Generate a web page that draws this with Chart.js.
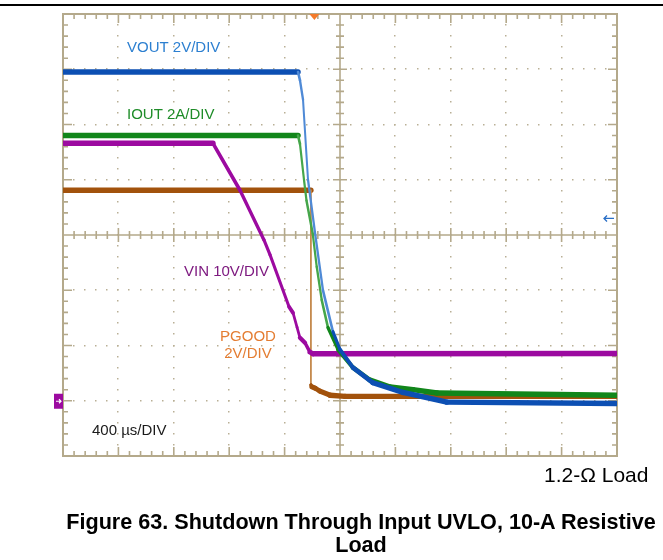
<!DOCTYPE html>
<html>
<head>
<meta charset="utf-8">
<script src="https://cdn.jsdelivr.net/npm/chart.js@4.4.0/dist/chart.umd.min.js"></script>
<style>
  body { margin: 0; background: #fff; }
  #wrap { position: relative; width: 663px; height: 560px; overflow: hidden; font-family: "Liberation Sans", Arial, sans-serif; }
  #scope { position: absolute; left: 0; top: 0; }
  .rule { position: absolute; left: 0; top: 4px; width: 663px; height: 2px; background: #000; }
  .load { position: absolute; left: 544px; top: 464px; font-size: 21px; line-height: 21px; color: #000; white-space: nowrap; }
  .caption { position: absolute; left: 0; top: 510px; width: 722px; text-align: center; font-size: 21.6px; line-height: 23px; font-weight: bold; color: #000; white-space: nowrap; }
</style>
</head>
<body>
<div id="wrap">
  <div class="rule"></div>
  <canvas id="scope" width="663" height="560"></canvas>
  <div class="load">1.2-Ω Load</div>
  <div class="caption">Figure 63. Shutdown Through Input UVLO, 10-A Resistive<br>Load</div>
</div>
<script>
// Scope settings: 10 x 8 divisions, all channels share ground one division above the bottom
const usPerDiv = 400;
const voutPerDiv = 2;   // V/DIV
const ioutPerDiv = 2;   // A/DIV
const vinPerDiv = 10;   // V/DIV
const pgoodPerDiv = 2;  // V/DIV

// VOUT trace (time in us, volts)
const voutTimeUs = [0, 1697, 1711, 1733, 1769, 1819, 1877, 1949, 2000, 2094, 2238, 2455, 2772, 4000];
const voutVolts  = [11.9, 11.9, 11.6, 10.9, 8.0, 6.1, 4.0, 2.5, 1.85, 1.2, 0.65, 0.3, -0.05, -0.1];

// IOUT trace (time in us, amps)
const ioutTimeUs = [0, 1697, 1711, 1740, 1758, 1803, 1832, 1868, 1913, 1986, 2094, 2217, 2361, 2527, 2700, 4000];
const ioutAmps   = [9.6, 9.6, 9.3, 8.0, 7.25, 6.05, 4.85, 3.65, 2.65, 1.85, 1.2, 0.75, 0.5, 0.4, 0.28, 0.2];

// VIN trace (time in us, volts)
const vinTimeUs = [0, 1083, 1278, 1451, 1495, 1632, 1661, 1690, 1711, 1747, 1783, 1805, 4000];
const vinVolts  = [46.6, 46.6, 38.1, 29.1, 26.4, 17.0, 15.9, 13.3, 11.4, 10.5, 8.8, 8.5, 8.55];

// PGOOD trace (time in us, volts)
const pgoodTimeUs = [0, 1790, 1790, 1798, 1819, 1855, 1928, 2036, 4000];
const pgoodVolts  = [7.62, 7.62, 0.57, 0.5, 0.46, 0.35, 0.2, 0.16, 0.16];

// Trigger point and level (on VOUT)
const triggerTimeUs = 1815;
const triggerLevelV = 6.6;

const frameColor = '#b4a98b';

function points(ts, vs) {
    return ts.map((t, i) => ({ x: t, y: vs[i] }));
}

// Scope traces look thick where they are flat (noise) and thin where they move fast
function traceStyle(main, light) {
    const cosAngle = c => {
        const dx = Math.abs(c.p1.x - c.p0.x), dy = Math.abs(c.p1.y - c.p0.y);
        return dx / (Math.hypot(dx, dy) || 1);
    };
    return {
        borderColor: c => cosAngle(c) < 0.25 ? light : main,
        borderWidth: c => 1.8 + 3.6 * cosAngle(c)
    };
}

function axisFor(perDiv) {
    // 8 divisions, ground at one division above the bottom
    return { display: false, min: -perDiv, max: 7 * perDiv };
}

// Draws the scope graticule: dotted grid, centre cross and frame ticks
const graticule = {
    id: 'graticule',
    beforeDatasetsDraw(chart) {
        const ctx = chart.ctx;
        const a = chart.chartArea;
        const xs = chart.scales.x;
        const ys = chart.scales.yVout;
        const colX = i => xs.getPixelForValue(i * usPerDiv);
        const rowY = j => ys.getPixelForValue((j - 1) * voutPerDiv);
        const sub = (a.right - a.left) / 50;
        const subY = (a.bottom - a.top) / 40;

        ctx.save();
        // dotted division lines
        ctx.fillStyle = '#b9af95';
        for (let i = 1; i < 10; i++) {
            if (i == 5) continue;
            const gx = Math.round(colX(i));
            for (let k = 1; k < 40; k++) {
                ctx.fillRect(gx - 1, Math.round(a.top + k * subY) - 1, 1.5, 1.5);
            }
        }
        for (let j = 1; j < 8; j++) {
            if (j == 4) continue;
            const gy = Math.round(rowY(j));
            for (let k = 1; k < 50; k++) {
                ctx.fillRect(Math.round(a.left + k * sub) - 1, gy - 1, 1.5, 1.5);
            }
        }

        ctx.strokeStyle = frameColor;
        ctx.lineWidth = 1.6;
        ctx.beginPath();
        // centre cross
        const cx = colX(5), cy = rowY(4);
        ctx.moveTo(cx, a.top); ctx.lineTo(cx, a.bottom);
        ctx.moveTo(a.left, cy); ctx.lineTo(a.right, cy);
        // ticks on the centre cross
        for (let k = 1; k < 50; k++) {
            const tx = a.left + k * sub;
            const len = k % 5 == 0 ? 7 : 4;
            ctx.moveTo(tx, cy - len); ctx.lineTo(tx, cy + len);
        }
        for (let k = 1; k < 40; k++) {
            const ty = a.top + k * subY;
            const len = k % 5 == 0 ? 7 : 4;
            ctx.moveTo(cx - len, ty); ctx.lineTo(cx + len, ty);
        }
        // ticks on the frame, pointing inwards
        for (let k = 1; k < 50; k++) {
            const tx = a.left + k * sub;
            const len = k % 5 == 0 ? 9 : 5;
            ctx.moveTo(tx, a.top); ctx.lineTo(tx, a.top + len);
            ctx.moveTo(tx, a.bottom); ctx.lineTo(tx, a.bottom - len);
        }
        for (let k = 1; k < 40; k++) {
            const ty = a.top + k * subY;
            const len = k % 5 == 0 ? 9 : 5;
            ctx.moveTo(a.left, ty); ctx.lineTo(a.left + len, ty);
            ctx.moveTo(a.right, ty); ctx.lineTo(a.right - len, ty);
        }
        ctx.stroke();
        ctx.lineWidth = 2;
        ctx.strokeRect(a.left, a.top, a.right - a.left, a.bottom - a.top);
        ctx.restore();
    },
    afterDatasetsDraw(chart) {
        const ctx = chart.ctx;
        const a = chart.chartArea;
        const xs = chart.scales.x;
        const ys = chart.scales.yVout;
        ctx.save();

        // trigger position marker (orange triangle at the top)
        const tx = xs.getPixelForValue(triggerTimeUs);
        ctx.fillStyle = '#f47a2a';
        ctx.beginPath();
        ctx.moveTo(tx - 5, a.top);
        ctx.lineTo(tx + 5, a.top);
        ctx.lineTo(tx, a.top + 6);
        ctx.closePath();
        ctx.fill();

        // trigger level arrow on the right
        const ly = ys.getPixelForValue(triggerLevelV);
        ctx.strokeStyle = '#2a6fc6';
        ctx.lineWidth = 1.3;
        ctx.beginPath();
        ctx.moveTo(a.right - 13, ly); ctx.lineTo(a.right - 3, ly);
        ctx.moveTo(a.right - 10, ly - 3); ctx.lineTo(a.right - 13, ly); ctx.lineTo(a.right - 10, ly + 3);
        ctx.stroke();

        // ground marker on the left
        const gy = ys.getPixelForValue(0);
        ctx.fillStyle = '#9c0aa0';
        ctx.fillRect(a.left - 9, gy - 7, 9, 15);
        ctx.strokeStyle = '#fff';
        ctx.lineWidth = 1.2;
        ctx.beginPath();
        ctx.moveTo(a.left - 7, gy + 0.5); ctx.lineTo(a.left - 2, gy + 0.5);
        ctx.moveTo(a.left - 4, gy - 1.5); ctx.lineTo(a.left - 2, gy + 0.5); ctx.lineTo(a.left - 4, gy + 2.5);
        ctx.stroke();

        // channel labels
        ctx.font = '15px "Liberation Sans", Arial, sans-serif';
        ctx.textBaseline = 'alphabetic';
        ctx.textAlign = 'left';
        ctx.fillStyle = '#2c7fd0';
        ctx.fillText('VOUT 2V/DIV', 127, 52);
        ctx.fillStyle = '#1e8c28';
        ctx.fillText('IOUT 2A/DIV', 127, 119);
        ctx.fillStyle = '#7e1a80';
        ctx.fillText('VIN 10V/DIV', 184, 276);
        ctx.fillStyle = '#e47d32';
        ctx.textAlign = 'center';
        ctx.fillText('PGOOD', 248, 341);
        ctx.fillText('2V/DIV', 248, 358);
        ctx.fillStyle = '#1a1a1a';
        ctx.textAlign = 'left';
        ctx.fillText('400 \u00b5s/DIV', 92, 435);
        ctx.restore();
    }
};

const ctx = document.getElementById('scope');

const scopeChart = new Chart(ctx, {
    type: 'line',
    data: {
        datasets: [
            {
                label: 'VOUT',
                data: points(voutTimeUs, voutVolts),
                yAxisID: 'yVout',
                borderColor: '#0c4fb3',
                segment: traceStyle('#0c4fb3', '#4f8ad6')
            },
            {
                label: 'IOUT',
                data: points(ioutTimeUs, ioutAmps),
                yAxisID: 'yIout',
                borderColor: '#11861a',
                segment: traceStyle('#11861a', '#45a64a')
            },
            {
                label: 'VIN',
                data: points(vinTimeUs, vinVolts),
                yAxisID: 'yVin',
                borderColor: '#9c0aa0',
                segment: traceStyle('#9c0aa0', '#a82aac')
            },
            {
                label: 'PGOOD',
                data: points(pgoodTimeUs, pgoodVolts),
                yAxisID: 'yPgood',
                borderColor: '#a2520c',
                segment: traceStyle('#a2520c', '#c58a4c')
            }
        ]
    },
    options: {
        responsive: false,
        animation: false,
        devicePixelRatio: 1,
        layout: {
            padding: { left: 63, top: 14, right: 46, bottom: 104 }
        },
        elements: {
            point: { radius: 0 },
            line: { tension: 0, borderCapStyle: 'round', borderJoinStyle: 'round' }
        },
        plugins: {
            legend: { display: false },
            tooltip: { enabled: false }
        },
        scales: {
            x: { type: 'linear', display: false, min: 0, max: 10 * usPerDiv },
            yVout: axisFor(voutPerDiv),
            yIout: axisFor(ioutPerDiv),
            yVin: axisFor(vinPerDiv),
            yPgood: axisFor(pgoodPerDiv)
        }
    },
    plugins: [graticule]
});
</script>
</body>
</html>
